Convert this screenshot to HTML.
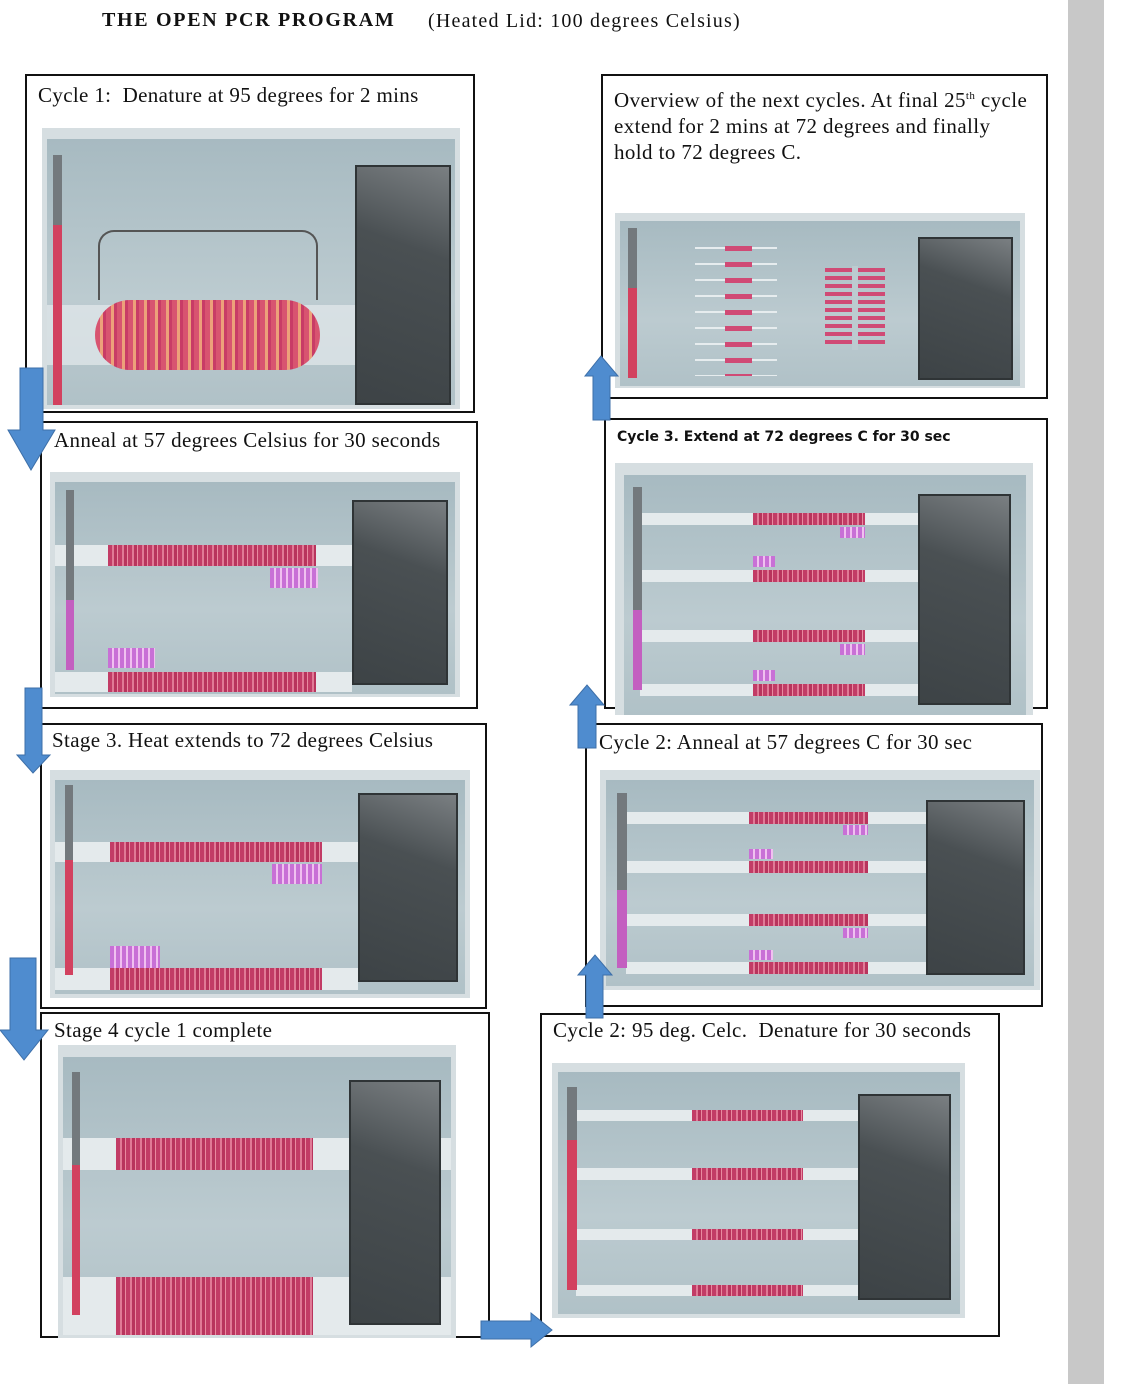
<!DOCTYPE html>
<html><head><meta charset="utf-8">
<style>
body{margin:0;width:1123px;height:1384px;background:#fff;position:relative;overflow:hidden;font-family:"Liberation Serif",serif;}
div{position:absolute;box-sizing:border-box;}
.bx{border:2px solid #111;}
.t{font-size:21px;color:#111;white-space:nowrap;letter-spacing:0.35px;}
.rim{background:#d6dee1;}
.scr{background:linear-gradient(180deg,#a7bac1 0%,#bccbd0 60%,#b0c1c7 100%);}
.dk{background:linear-gradient(200deg,#7a7f82 0%,#4a5053 35%,#3d4346 100%);border:2px solid #2f3436;}
.th{background:#73797d;}
.red{background:#d2415f;}
.pur{background:#c35fc0;}
.band{background:#e4eaec;}
.dna{background:repeating-linear-gradient(90deg,#c23c66 0 4px,#e07a96 4px 6px,#b8345d 6px 9px,#e98aa0 9px 10px);}
.pr{background:repeating-linear-gradient(90deg,#c870d6 0 4px,#f0c0f0 4px 6px);}
</style></head><body>
<div style="left:1068px;top:0;width:36px;height:1384px;background:#c8c8c8"></div>

<div class="t" style="left:102px;top:9px;font-weight:bold;font-size:20px;letter-spacing:1.7px">THE OPEN PCR PROGRAM</div>
<div class="t" style="left:428px;top:10px;font-size:20px;letter-spacing:1.2px">(Heated Lid: 100 degrees Celsius)</div>

<!-- Box 1 -->
<div class="bx" style="left:25px;top:74px;width:450px;height:339px"></div>
<div class="t" style="left:38px;top:83px">Cycle 1:&nbsp; Denature at 95 degrees for 2 mins</div>
<div class="rim" style="left:42px;top:128px;width:418px;height:281px"></div>
<div class="scr" style="left:47px;top:139px;width:408px;height:266px"></div>
<div class="band" style="left:47px;top:305px;width:308px;height:60px;opacity:.7"></div>
<div style="left:95px;top:300px;width:225px;height:70px;border-radius:40px;background:repeating-linear-gradient(90deg,#d85470 0 5px,#eda07a 5px 8px,#c83c66 8px 11px);"></div>
<div style="left:98px;top:230px;width:220px;height:70px;border:2px solid #555;border-bottom:none;border-radius:16px 16px 0 0"></div>
<div class="th" style="left:53px;top:155px;width:9px;height:250px"></div>
<div class="red" style="left:53px;top:225px;width:9px;height:180px"></div>
<div class="dk" style="left:355px;top:165px;width:96px;height:240px"></div>

<!-- Box 2 -->
<div class="bx" style="left:40px;top:421px;width:438px;height:288px"></div>
<div class="t" style="left:54px;top:428px">Anneal at 57 degrees Celsius for 30 seconds</div>
<div class="rim" style="left:50px;top:472px;width:410px;height:225px"></div>
<div class="scr" style="left:55px;top:482px;width:400px;height:212px"></div>
<div class="band" style="left:55px;top:545px;width:297px;height:21px"></div>
<div class="band" style="left:55px;top:672px;width:297px;height:20px"></div>
<div class="dna" style="left:108px;top:545px;width:208px;height:21px"></div>
<div class="dna" style="left:108px;top:672px;width:208px;height:20px"></div>
<div class="pr" style="left:270px;top:568px;width:48px;height:20px"></div>
<div class="pr" style="left:108px;top:648px;width:47px;height:20px"></div>
<div class="th" style="left:66px;top:490px;width:8px;height:180px"></div>
<div class="pur" style="left:66px;top:600px;width:8px;height:70px"></div>
<div class="dk" style="left:352px;top:500px;width:96px;height:185px"></div>

<!-- Box 3 -->
<div class="bx" style="left:40px;top:723px;width:447px;height:286px"></div>
<div class="t" style="left:52px;top:728px">Stage 3. Heat extends to 72 degrees Celsius</div>
<div class="rim" style="left:50px;top:770px;width:420px;height:228px"></div>
<div class="scr" style="left:55px;top:780px;width:410px;height:214px"></div>
<div class="band" style="left:55px;top:842px;width:303px;height:20px"></div>
<div class="band" style="left:55px;top:968px;width:303px;height:22px"></div>
<div class="dna" style="left:110px;top:842px;width:212px;height:20px"></div>
<div class="dna" style="left:110px;top:968px;width:212px;height:22px"></div>
<div class="pr" style="left:272px;top:864px;width:50px;height:20px"></div>
<div class="pr" style="left:110px;top:946px;width:50px;height:22px"></div>
<div class="th" style="left:65px;top:785px;width:8px;height:190px"></div>
<div class="red" style="left:65px;top:860px;width:8px;height:115px"></div>
<div class="dk" style="left:358px;top:793px;width:100px;height:189px"></div>

<!-- Box 4 -->
<div class="bx" style="left:40px;top:1012px;width:450px;height:326px"></div>
<div class="t" style="left:54px;top:1018px">Stage 4 cycle 1 complete</div>
<div class="rim" style="left:58px;top:1045px;width:398px;height:293px"></div>
<div class="scr" style="left:63px;top:1057px;width:388px;height:278px"></div>
<div class="band" style="left:63px;top:1138px;width:388px;height:32px"></div>
<div class="band" style="left:63px;top:1277px;width:388px;height:58px"></div>
<div class="dna" style="left:116px;top:1138px;width:197px;height:32px"></div>
<div class="dna" style="left:116px;top:1277px;width:197px;height:58px"></div>
<div class="th" style="left:72px;top:1072px;width:8px;height:243px"></div>
<div class="red" style="left:72px;top:1165px;width:8px;height:150px"></div>
<div class="dk" style="left:349px;top:1080px;width:92px;height:245px"></div>

<!-- Box 5 -->
<div class="bx" style="left:601px;top:74px;width:447px;height:325px"></div>
<div class="t" style="left:614px;top:83px;line-height:26px;letter-spacing:0.4px">Overview of the next cycles. At final 25<sup style="font-size:11px">th</sup> cycle<br>extend for 2 mins at 72 degrees and finally<br>hold to 72 degrees C.</div>
<div class="rim" style="left:615px;top:213px;width:410px;height:175px"></div>
<div class="scr" style="left:620px;top:221px;width:400px;height:165px"></div>
<div class="th" style="left:628px;top:228px;width:9px;height:150px"></div>
<div class="red" style="left:628px;top:288px;width:9px;height:90px"></div>
<div class="dk" style="left:918px;top:237px;width:95px;height:143px"></div>
<div style="left:695px;top:246px;width:82px;height:130px;background:repeating-linear-gradient(180deg,transparent 0 1px,#e6ecee 1px 3px,transparent 3px 16px)"></div>
<div style="left:725px;top:246px;width:27px;height:130px;background:repeating-linear-gradient(180deg,#d04a75 0 5px,transparent 5px 16px)"></div>
<div style="left:825px;top:268px;width:60px;height:80px;background:repeating-linear-gradient(180deg,#d04a75 0 4px,transparent 4px 8px)"></div>
<div style="left:852px;top:266px;width:6px;height:84px;background:#bccbd0"></div>

<!-- Box 6 -->
<div class="bx" style="left:604px;top:418px;width:444px;height:291px"></div>
<div class="t" style="left:617px;top:429px;font-family:'DejaVu Sans',sans-serif;font-weight:bold;font-size:14px;letter-spacing:0">Cycle 3. Extend at 72 degrees C for 30 sec</div>
<div class="rim" style="left:615px;top:463px;width:418px;height:252px"></div>
<div class="scr" style="left:624px;top:475px;width:402px;height:240px"></div>
<div class="band" style="left:640px;top:513px;width:278px;height:12px"></div>
<div class="band" style="left:640px;top:570px;width:278px;height:12px"></div>
<div class="band" style="left:640px;top:630px;width:278px;height:12px"></div>
<div class="band" style="left:640px;top:684px;width:278px;height:12px"></div>
<div class="dna" style="left:753px;top:513px;width:112px;height:12px"></div>
<div class="dna" style="left:753px;top:570px;width:112px;height:12px"></div>
<div class="dna" style="left:753px;top:630px;width:112px;height:12px"></div>
<div class="dna" style="left:753px;top:684px;width:112px;height:12px"></div>
<div class="pr" style="left:840px;top:527px;width:25px;height:11px"></div>
<div class="pr" style="left:753px;top:556px;width:22px;height:11px"></div>
<div class="pr" style="left:840px;top:644px;width:25px;height:11px"></div>
<div class="pr" style="left:753px;top:670px;width:22px;height:11px"></div>
<div class="th" style="left:633px;top:487px;width:9px;height:203px"></div>
<div class="pur" style="left:633px;top:610px;width:9px;height:80px"></div>
<div class="dk" style="left:918px;top:494px;width:93px;height:211px"></div>

<!-- Box 7 -->
<div class="bx" style="left:585px;top:723px;width:458px;height:284px"></div>
<div class="t" style="left:599px;top:730px">Cycle 2: Anneal at 57 degrees C for 30 sec</div>
<div class="rim" style="left:600px;top:770px;width:440px;height:220px"></div>
<div class="scr" style="left:606px;top:780px;width:428px;height:206px"></div>
<div class="band" style="left:626px;top:812px;width:300px;height:12px"></div>
<div class="band" style="left:626px;top:861px;width:300px;height:12px"></div>
<div class="band" style="left:626px;top:914px;width:300px;height:12px"></div>
<div class="band" style="left:626px;top:962px;width:300px;height:12px"></div>
<div class="dna" style="left:749px;top:812px;width:119px;height:12px"></div>
<div class="dna" style="left:749px;top:861px;width:119px;height:12px"></div>
<div class="dna" style="left:749px;top:914px;width:119px;height:12px"></div>
<div class="dna" style="left:749px;top:962px;width:119px;height:12px"></div>
<div class="pr" style="left:843px;top:825px;width:25px;height:10px"></div>
<div class="pr" style="left:749px;top:849px;width:24px;height:10px"></div>
<div class="pr" style="left:843px;top:928px;width:25px;height:10px"></div>
<div class="pr" style="left:749px;top:950px;width:24px;height:10px"></div>
<div class="th" style="left:617px;top:793px;width:10px;height:175px"></div>
<div class="pur" style="left:617px;top:890px;width:10px;height:78px"></div>
<div class="dk" style="left:926px;top:800px;width:99px;height:175px"></div>

<!-- Box 8 -->
<div class="bx" style="left:540px;top:1013px;width:460px;height:324px"></div>
<div class="t" style="left:553px;top:1018px">Cycle 2: 95 deg. Celc.&nbsp; Denature for 30 seconds</div>
<div class="rim" style="left:552px;top:1063px;width:413px;height:255px"></div>
<div class="scr" style="left:558px;top:1072px;width:402px;height:242px"></div>
<div class="band" style="left:576px;top:1110px;width:282px;height:11px"></div>
<div class="band" style="left:576px;top:1168px;width:282px;height:12px"></div>
<div class="band" style="left:576px;top:1229px;width:282px;height:11px"></div>
<div class="band" style="left:576px;top:1285px;width:282px;height:11px"></div>
<div class="dna" style="left:692px;top:1110px;width:111px;height:11px"></div>
<div class="dna" style="left:692px;top:1168px;width:111px;height:12px"></div>
<div class="dna" style="left:692px;top:1229px;width:111px;height:11px"></div>
<div class="dna" style="left:692px;top:1285px;width:111px;height:11px"></div>
<div class="th" style="left:567px;top:1087px;width:10px;height:203px"></div>
<div class="red" style="left:567px;top:1140px;width:10px;height:150px"></div>
<div class="dk" style="left:858px;top:1094px;width:93px;height:206px"></div>

<!-- Arrows -->
<svg style="position:absolute;left:0;top:0" width="1123" height="1384">
<g fill="#4f8ccf" stroke="#3d6fa8" stroke-width="1">
<polygon points="20,368 43,368 43,430 55,430 31,470 8,430 20,430"/>
<polygon points="25,688 42,688 42,755 50,755 33,773 17,755 25,755"/>
<polygon points="10,958 36,958 36,1030 48,1030 24,1060 0,1030 10,1030"/>
<polygon points="481,1321 531,1321 531,1313 552,1330 531,1347 531,1339 481,1339"/>
<polygon points="586,1018 603,1018 603,975 612,975 595,955 578,975 586,975"/>
<polygon points="578,748 596,748 596,705 604,705 587,685 570,705 578,705"/>
<polygon points="593,420 610,420 610,376 618,376 601,356 585,376 593,376"/>
</g>
</svg>
</body></html>
